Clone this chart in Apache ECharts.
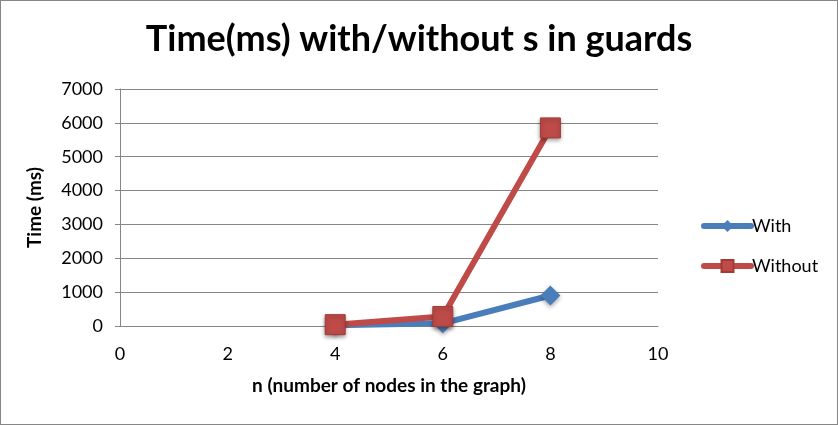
<!DOCTYPE html>
<html><head><meta charset="utf-8">
<script src="https://cdn.jsdelivr.net/npm/echarts@6/dist/echarts.min.js"></script>
<style>html,body{margin:0;padding:0;background:#fff}#c{width:838px;height:425px;box-sizing:border-box;border:1px solid #868686}</style>
</head><body><div id="c"></div>
<script>
const nWith = [4, 6, 8];
const timeWith = [20, 80, 900];
const nWithout = [4, 6, 8];
const timeWithout = [40, 280, 5850];
const seriesNames = ['With', 'Without'];
const titleText = 'Time(ms) with/without s in guards';
const xTitle = 'n (number of nodes in the graph)';
const yTitle = 'Time (ms)';

const chart = echarts.init(document.getElementById('c'), null, {renderer: 'canvas'});
const font = 'Lato, "Open Sans", sans-serif';
chart.setOption({
  animation: false,
  title: {text: titleText, left: 'center', top: 15,
    textStyle: {fontFamily: font, fontSize: 36, fontWeight: 'bold', color: '#000'}},
  grid: {left: 119, right: 179, top: 88, bottom: 98, containLabel: false},
  legend: {orient: 'vertical', left: 695, top: 211, itemGap: 22, itemWidth: 47, itemHeight: 15,
    lineStyle: {width: 6, cap: 'round'},
    textStyle: {fontFamily: font, fontSize: 18, color: '#000', padding: [0, 0, 0, -4]},
    data: seriesNames},
  xAxis: {type: 'value', min: 0, max: 10, interval: 2,
    name: xTitle, nameLocation: 'middle', nameGap: 50,
    nameTextStyle: {fontFamily: font, fontSize: 19, fontWeight: 'bold', color: '#000'},
    axisLine: {lineStyle: {color: '#868686'}}, axisTick: {show: false},
    axisLabel: {fontFamily: font, fontSize: 18, color: '#000', margin: 19},
    splitLine: {show: false}},
  yAxis: {type: 'value', min: 0, max: 7000, interval: 1000,
    name: yTitle, nameLocation: 'middle', nameGap: 76,
    nameTextStyle: {fontFamily: font, fontSize: 19, fontWeight: 'bold', color: '#000'},
    axisLine: {show: true, lineStyle: {color: '#868686'}}, axisTick: {show: true, length: 5, lineStyle: {color: '#868686'}},
    axisLabel: {fontFamily: font, fontSize: 18, color: '#000', margin: 17, formatter: v => String(v)},
    splitLine: {lineStyle: {color: '#868686'}}},
  series: [
    {name: seriesNames[0], type: 'line', data: nWith.map((n, i) => [n, timeWith[i]]),
      symbol: 'diamond', symbolSize: 20,
      lineStyle: {color: '#4a7ebb', width: 6, cap: 'round'},
      itemStyle: {color: '#4a7ebb', shadowColor: 'rgba(0,0,0,0.35)', shadowBlur: 4, shadowOffsetY: 2}},
    {name: seriesNames[1], type: 'line', data: nWithout.map((n, i) => [n, timeWithout[i]]),
      symbol: 'rect', symbolSize: 20,
      lineStyle: {color: '#be4b48', width: 6, cap: 'round'},
      itemStyle: {color: '#be4b48', borderColor: '#a33a37', borderWidth: 1, shadowColor: 'rgba(0,0,0,0.35)', shadowBlur: 4, shadowOffsetY: 2}}
  ]
});
</script></body></html>
